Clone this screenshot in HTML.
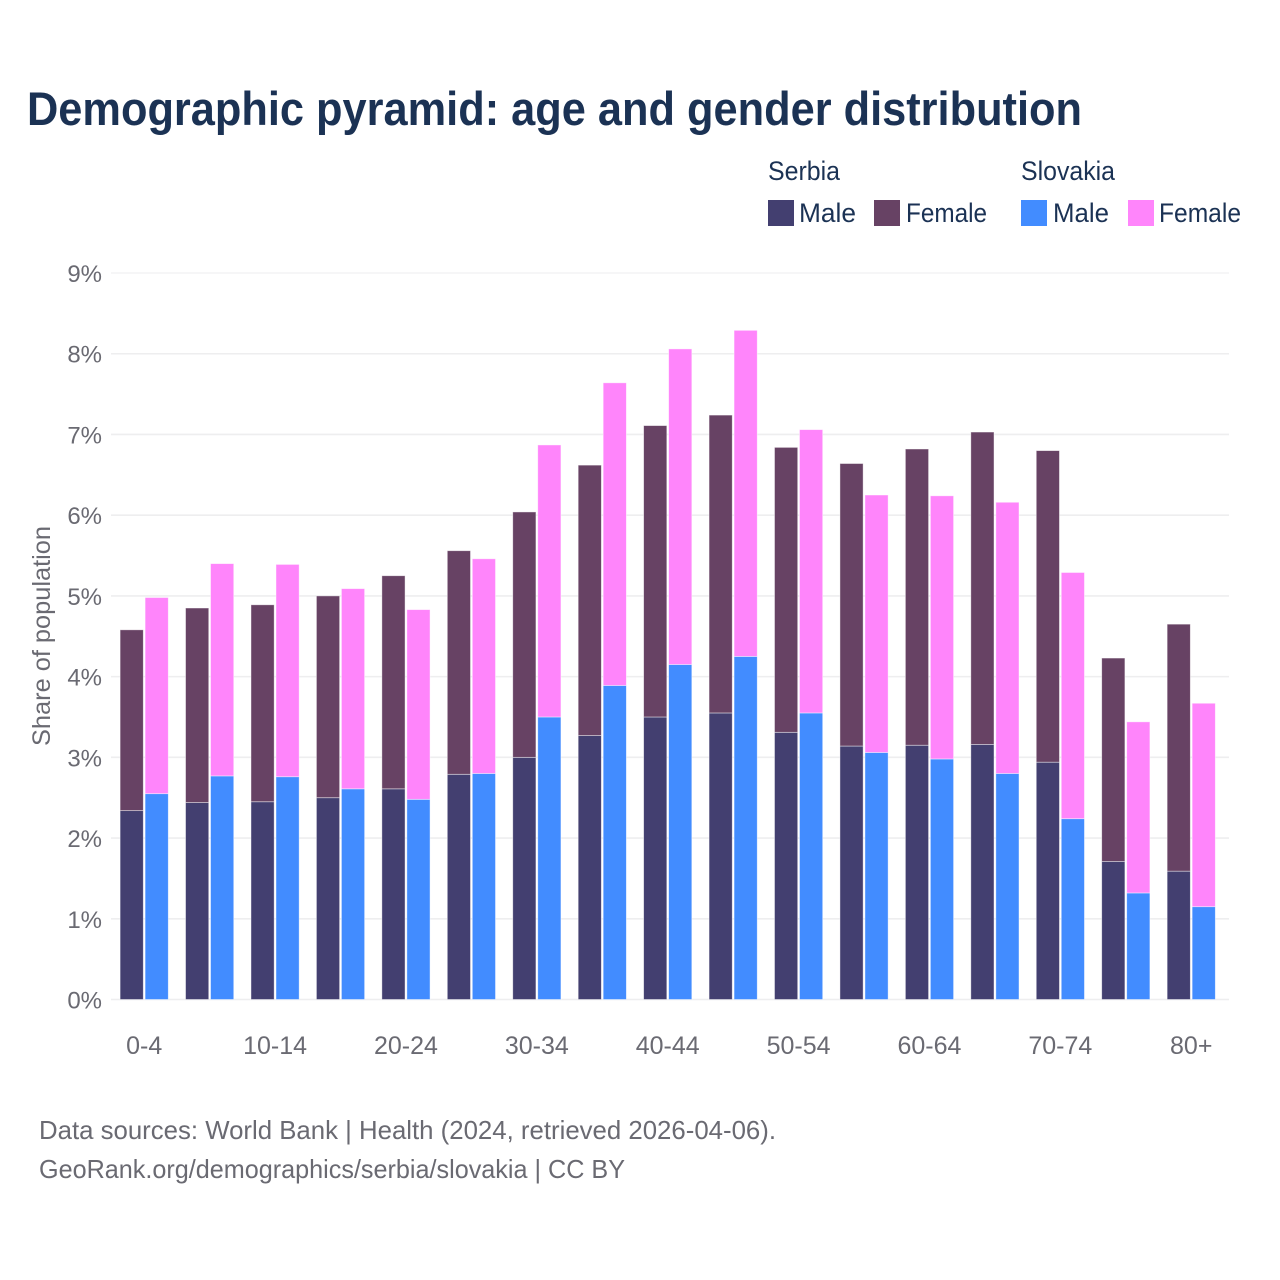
<!DOCTYPE html>
<html lang="en">
<head>
<meta charset="utf-8">
<title>Demographic pyramid: age and gender distribution</title>
<style>
html,body{margin:0;padding:0;background:#fff;}
svg{display:block;font-family:"Liberation Sans",sans-serif;}
</style>
</head>
<body>
<svg id="chart" xmlns="http://www.w3.org/2000/svg" width="1280" height="1280" viewBox="0 0 1280 1280">
  <rect x="0" y="0" width="1280" height="1280" fill="#ffffff"/>
  <text x="27" y="125" font-size="47" font-weight="700" fill="#1b3254" textLength="1055" lengthAdjust="spacingAndGlyphs">Demographic pyramid: age and gender distribution</text>

  <g font-size="27" fill="#1b3254">
    <text x="768" y="180" textLength="72" lengthAdjust="spacingAndGlyphs">Serbia</text>
    <text x="1021" y="180" textLength="94" lengthAdjust="spacingAndGlyphs">Slovakia</text>
    <rect x="768" y="200" width="26" height="26" fill="#433f70"/>
    <text x="799" y="222" textLength="57" lengthAdjust="spacingAndGlyphs">Male</text>
    <rect x="874" y="200" width="26" height="26" fill="#674264"/>
    <text x="906" y="222" textLength="81" lengthAdjust="spacingAndGlyphs">Female</text>
    <rect x="1021" y="200" width="26" height="26" fill="#428cff"/>
    <text x="1053" y="222" textLength="56" lengthAdjust="spacingAndGlyphs">Male</text>
    <rect x="1128" y="200" width="26" height="26" fill="#ff85fb"/>
    <text x="1159" y="222" textLength="82" lengthAdjust="spacingAndGlyphs">Female</text>
  </g>

  <g id="grid"></g>
  <g id="bars"></g>
  <g id="yticks"></g>
  <g id="xticks"></g>

  <text transform="translate(50,636) rotate(-90)" text-anchor="middle" font-size="25" fill="#6a6a72" textLength="220" lengthAdjust="spacingAndGlyphs">Share of population</text>

  <text x="39" y="1139" font-size="26" fill="#6a6a72" textLength="737" lengthAdjust="spacingAndGlyphs">Data sources: World Bank | Health (2024, retrieved 2026-04-06).</text>
  <text x="39" y="1178" font-size="26" fill="#6a6a72" textLength="586" lengthAdjust="spacingAndGlyphs">GeoRank.org/demographics/serbia/slovakia | CC BY</text>
</svg>
<script>
const categories = ["0-4","5-9","10-14","15-19","20-24","25-29","30-34","35-39","40-44","45-49","50-54","55-59","60-64","65-69","70-74","75-79","80+"];
const xTickLabels = ["0-4","10-14","20-24","30-34","40-44","50-54","60-64","70-74","80+"];
const yTickValues = [0,1,2,3,4,5,6,7,8,9];
const serbiaMale = [2.34,2.44,2.45,2.50,2.61,2.79,3.00,3.27,3.50,3.55,3.31,3.14,3.15,3.16,2.94,1.71,1.59];
const serbiaFemale = [2.24,2.41,2.44,2.50,2.64,2.77,3.04,3.35,3.61,3.69,3.53,3.50,3.67,3.87,3.86,2.52,3.06];
const slovakiaMale = [2.55,2.77,2.76,2.61,2.48,2.80,3.50,3.89,4.15,4.25,3.55,3.06,2.98,2.80,2.24,1.32,1.15];
const slovakiaFemale = [2.43,2.63,2.63,2.48,2.35,2.66,3.37,3.75,3.91,4.04,3.51,3.19,3.26,3.36,3.05,2.12,2.52];

const NS = "http://www.w3.org/2000/svg";
const plotLeft = 111, plotRight = 1229, y0 = 999.5, pxPerUnit = 80.72;
const firstCenter = 144.2, bandStep = 65.44, barWidth = 23.2, barGap = 1.8;

function yScale(v){ return y0 - v * pxPerUnit; }
function xCenter(i){ return firstCenter + i * bandStep; }
function svgEl(tag){ return document.createElementNS(NS, tag); }

const gridGroup = document.getElementById("grid");
const yTickGroup = document.getElementById("yticks");
const xTickGroup = document.getElementById("xticks");
const barGroup = document.getElementById("bars");

yTickValues.forEach(function(v){
  const line = svgEl("line");
  
  
  line.setAttribute("x1", plotLeft);
  line.setAttribute("x2", plotRight);
  line.setAttribute("y1", yScale(v));
  line.setAttribute("y2", yScale(v));
  line.setAttribute("stroke", "#eeeeef");
  line.setAttribute("stroke-width", v === 9 ? 1 : 1.6);
  gridGroup.appendChild(line);

  const t = svgEl("text");
  
  
  t.setAttribute("x", 102);
  t.setAttribute("y", yScale(v) + 9);
  t.setAttribute("text-anchor", "end");
  t.setAttribute("font-size", "24");
  t.setAttribute("fill", "#6a6a72");
  t.textContent = v + "%";
  yTickGroup.appendChild(t);
});

xTickLabels.forEach(function(label){
  const t = svgEl("text");
  
  
  t.setAttribute("x", xCenter(categories.indexOf(label)));
  t.setAttribute("y", 1054);
  t.setAttribute("text-anchor", "middle");
  t.setAttribute("font-size", "25");
  t.setAttribute("fill", "#6a6a72");
  t.textContent = label;
  xTickGroup.appendChild(t);
});

function drawSegment(x, base, value, color){
  const r = svgEl("rect");
  
  
  r.setAttribute("x", x);
  r.setAttribute("y", yScale(base + value));
  r.setAttribute("width", barWidth);
  r.setAttribute("height", value * pxPerUnit);
  r.setAttribute("fill", color);
  r.setAttribute("stroke", "#ffffff");
  r.setAttribute("stroke-opacity", "0.55");
  r.setAttribute("stroke-width", "0.8");
  barGroup.appendChild(r);
}

categories.forEach(function(c, i){
  const cx = xCenter(i);
  const leftX = cx - barGap / 2 - barWidth;
  const rightX = cx + barGap / 2;
  drawSegment(leftX, 0, serbiaMale[i], "#433f70");
  drawSegment(leftX, serbiaMale[i], serbiaFemale[i], "#674264");
  drawSegment(rightX, 0, slovakiaMale[i], "#428cff");
  drawSegment(rightX, slovakiaMale[i], slovakiaFemale[i], "#ff85fb");
});
</script>
</body>
</html>
